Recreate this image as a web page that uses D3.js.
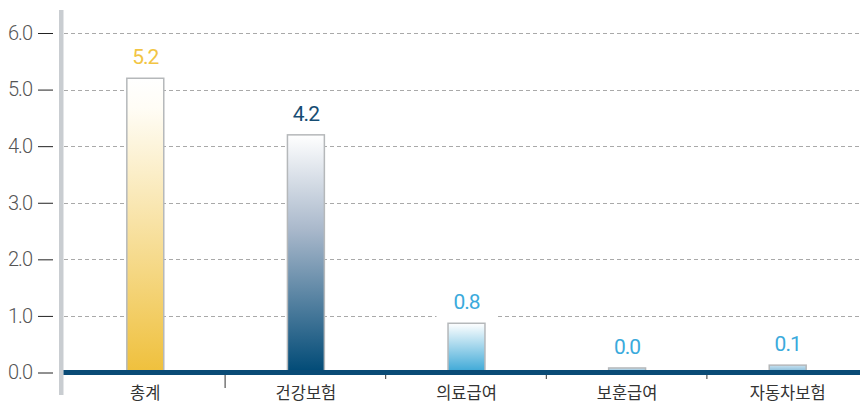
<!DOCTYPE html>
<html>
<head>
<meta charset="utf-8">
<script src="https://cdn.jsdelivr.net/npm/d3@7"></script>
<style>
  body { margin: 0; background: #fff; }
  svg { display: block; }
</style>
</head>
<body>
<div id="chart"></div>
<script>
// data
const categories = ["총계", "건강보험", "의료급여", "보훈급여", "자동차보험"]
const values = [5.2, 4.2, 0.87, 0.08, 0.13]
const valueLabels = ["5.2", "4.2", "0.8", "0.0", "0.1"]
const yTicks = [0, 1, 2, 3, 4, 5, 6]

const width = 860
const height = 404

const svg = d3.select("#chart").append("svg")
    .attr("width", width)
    .attr("height", height)

// gradients per bar
const labelColors = ["#f2c544", "#164d73", "#3aaadc", "#3aaadc", "#3aaadc"]
const barBottom = ["#efc03c", "#004a76", "#3aa7d6", "#78b6d8", "#78b6d8"]
const defs = svg.append("defs")
barBottom.forEach((c, i) => {
  const g = defs.append("linearGradient")
      .attr("id", "grad" + i)
      .attr("x1", 0).attr("x2", 0).attr("y1", 0).attr("y2", 1)
  g.append("stop").attr("offset", "0%").attr("stop-color", i < 3 ? "#ffffff" : "#c9e1ef")
  if (i == 0) g.append("stop").attr("offset", "10%").attr("stop-color", "#fffdf6")
  if (i == 1) g.append("stop").attr("offset", "40%").attr("stop-color", "#a9b8cb")
  g.append("stop").attr("offset", "100%").attr("stop-color", c)
})

// scales
const yScale = d3.scaleLinear()
    .domain([0, 6])
    .range([372.5, 33])

const xScale = d3.scaleBand()
    .domain(categories)
    .range([65, 868])
    .paddingInner(0.77)
    .paddingOuter(0.385)

const numFont = "Roboto, 'Liberation Sans', sans-serif"

// grid
svg.append("g")
  .selectAll("line")
  .data(yTicks.filter(d => d > 0))
  .join("line")
    .attr("x1", 64)
    .attr("x2", width)
    .attr("y1", d => Math.round(yScale(d)) + 0.5)
    .attr("y2", d => Math.round(yScale(d)) + 0.5)
    .attr("stroke", "#a9a9a9")
    .attr("stroke-dasharray", "4,3")

// y axis
const yAxis = svg.append("g")
    .attr("transform", "translate(53,0)")
    .call(d3.axisLeft(yScale)
      .tickValues(yTicks)
      .tickFormat(d3.format(".1f"))
      .tickSize(15)
      .tickPadding(6))
yAxis.select(".domain").remove()
yAxis.selectAll(".tick line").attr("stroke", "#222")
yAxis.selectAll(".tick text")
    .attr("fill", "#555")
    .style("font-family", numFont)
    .style("font-weight", 300)
    .style("font-size", "20px")
    .style("letter-spacing", "-1px")

// grey vertical bar
svg.append("rect")
    .attr("x", 59)
    .attr("y", 10)
    .attr("width", 4.5)
    .attr("height", 385)
    .attr("fill", "#c9cdd1")

// white boxes behind value labels
const step = xScale.step()
svg.append("g")
  .selectAll("rect")
  .data(categories)
  .join("rect")
    .attr("x", d => xScale(d) + xScale.bandwidth() / 2 - 30)
    .attr("width", 60)
    .attr("y", (d, i) => yScale(values[i]) - 40)
    .attr("height", 40)
    .attr("fill", "#fff")

// bars
svg.append("g")
  .selectAll("rect")
  .data(categories)
  .join("rect")
    .attr("x", d => xScale(d))
    .attr("width", xScale.bandwidth())
    .attr("y", (d, i) => yScale(values[i]))
    .attr("height", (d, i) => yScale(0) - yScale(values[i]))
    .attr("fill", (d, i) => `url(#grad${i})`)
    .attr("stroke", "#b5b8ba")
    .attr("stroke-width", 1.5)

// value labels
svg.append("g")
  .selectAll("text")
  .data(categories)
  .join("text")
    .attr("x", d => xScale(d) + xScale.bandwidth() / 2)
    .attr("y", (d, i) => yScale(values[i]) - 14)
    .attr("text-anchor", "middle")
    .attr("fill", (d, i) => labelColors[i])
    .style("font-family", numFont)
    .style("font-size", "21px")
    .style("letter-spacing", "-1px")
    .text((d, i) => valueLabels[i])

// baseline
svg.append("rect")
    .attr("x", 63.5)
    .attr("y", 370)
    .attr("width", width - 63.5)
    .attr("height", 5)
    .attr("fill", "#0a4b76")

// category separators
svg.append("g")
  .selectAll("line")
  .data(categories.slice(1))
  .join("line")
    .attr("x1", d => xScale(d) - step * 0.385 - 0.5)
    .attr("x2", d => xScale(d) - step * 0.385 - 0.5)
    .attr("y1", 375)
    .attr("y2", (d, i) => i == 0 ? 388 : 379)
    .attr("stroke", "#333")
    .attr("stroke-width", 1)

// category labels
svg.append("g")
  .selectAll("text")
  .data(categories)
  .join("text")
    .attr("x", d => xScale(d) + xScale.bandwidth() / 2)
    .attr("y", 399)
    .attr("text-anchor", "middle")
    .attr("fill", "#333")
    .style("font-family", "'Noto Sans CJK KR', sans-serif")
    .style("font-size", "16.5px")
    .text(d => d)
</script>
</body>
</html>
